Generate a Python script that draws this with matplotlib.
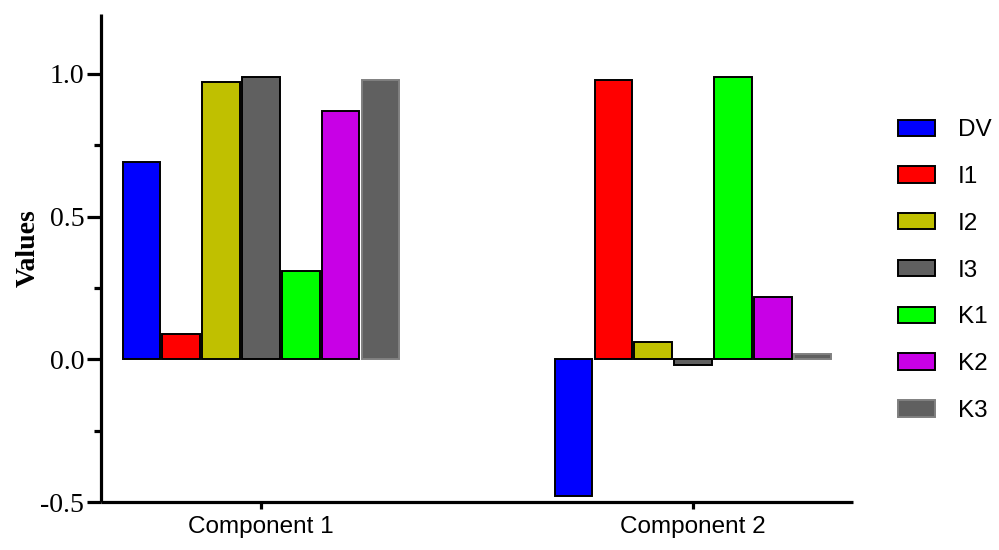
import numpy as np
from matplotlib import pyplot as plt
from matplotlib.ticker import FixedLocator

# data
components = ["Component 1", "Component 2"]
series = ["DV", "I1", "I2", "I3", "K1", "K2", "K3"]
comp1_values = [0.69, 0.09, 0.97, 0.99, 0.31, 0.87, 0.98]
comp2_values = [-0.48, 0.98, 0.06, -0.02, 0.99, 0.22, 0.02]

colors = ["#0000FF", "#FF0000", "#C0C000", "#606060", "#00FF00", "#C800E6", "#606060"]
edge_colors = ["black", "black", "black", "black", "black", "black", "#808080"]

fig = plt.figure(figsize=(9.99, 5.5), dpi=100)
ax = fig.add_axes([101 / 999, 48 / 550, 752 / 999, 488 / 550])

x = np.arange(len(components))
slot = 0.0921
bar_w = 0.087

for i, name in enumerate(series):
    vals = [comp1_values[i], comp2_values[i]]
    ax.bar(x + (i - 3) * slot, vals, width=bar_w, color=colors[i],
           edgecolor=edge_colors[i], linewidth=1.4, label=name)

ax.set_xlim(-0.37, 1.37)
ax.set_ylim(-0.5, 1.21)

# spines
for side in ["top", "right"]:
    ax.spines[side].set_visible(False)
for side in ["left", "bottom"]:
    ax.spines[side].set_linewidth(2.3)
    ax.spines[side].set_capstyle("butt")

ax.yaxis.set_major_locator(FixedLocator([-0.5, 0.0, 0.5, 1.0]))
ax.yaxis.set_minor_locator(FixedLocator([-0.25, 0.25, 0.75]))
ax.set_yticklabels(["-0.5", "0.0", "0.5", "1.0"], family="Liberation Serif", fontsize=20)
ax.tick_params(axis="y", which="major", length=10, width=2.3, pad=2)
ax.tick_params(axis="y", which="minor", length=5, width=2.3)

ax.set_xticks(x)
ax.set_xticklabels(components, family="Liberation Sans", fontsize=17.5)
ax.tick_params(axis="x", which="major", length=5, width=2.3, pad=5)

ax.set_ylabel("Values", family="Liberation Serif", fontweight="bold", fontsize=20)
ax.yaxis.set_label_coords(-0.08, 0.52)

ax.legend(loc="center left", bbox_to_anchor=(898 / 999, 0.508),
          bbox_transform=fig.transFigure, frameon=False,
          prop=dict(family="Liberation Sans", size=17.5),
          handlelength=1.52, handleheight=0.66, handletextpad=0.95,
          labelspacing=1.02, borderpad=0, borderaxespad=0)

plt.savefig("out.png", dpi=100)
